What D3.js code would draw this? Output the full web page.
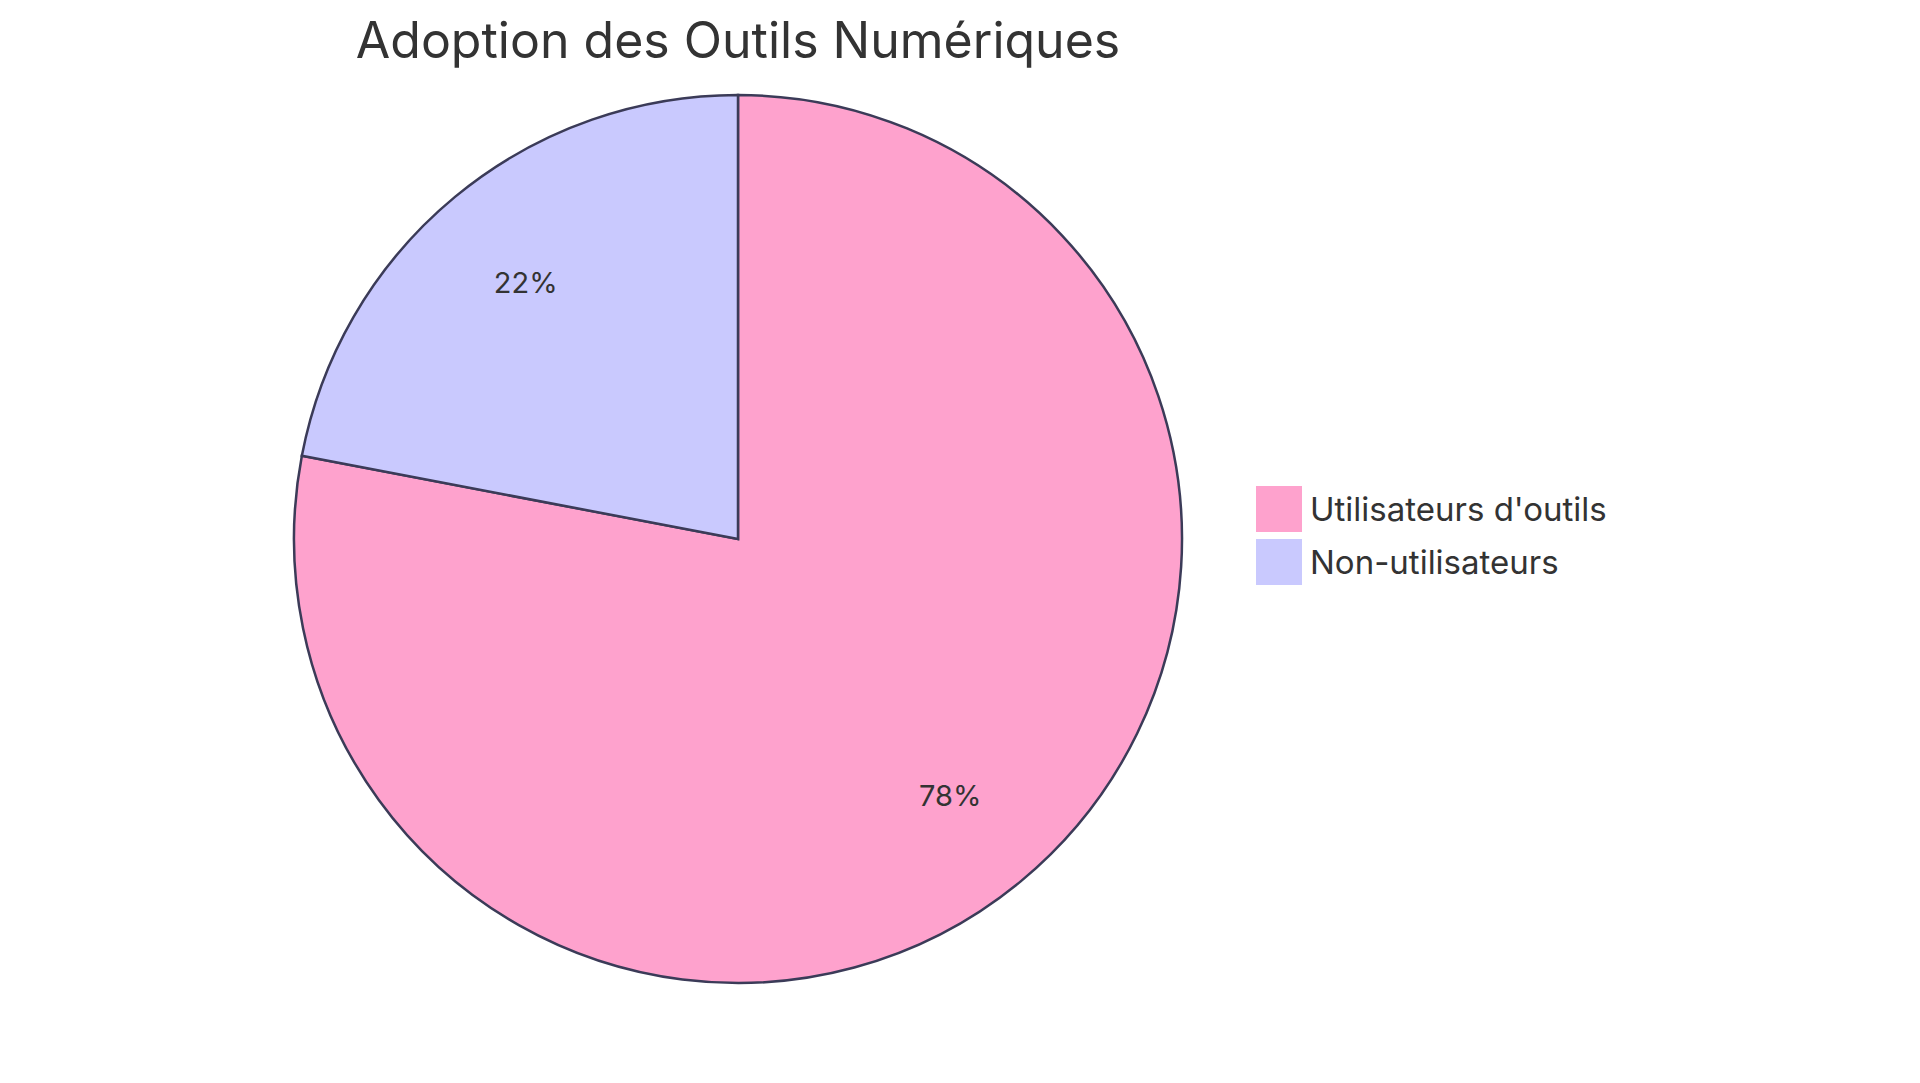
<!DOCTYPE html>
<html><head><meta charset="utf-8">
<script src="https://cdn.jsdelivr.net/npm/d3@7"></script>
<style>body{margin:0;background:#fff;font-family:Inter,"Open Sans",sans-serif;}</style>
</head><body>
<script>
var labels = ["Utilisateurs d'outils", "Non-utilisateurs"],
    values = [78, 22],
    colors = ["#fea2cd", "#c9c9fe"];

var width = 1920, height = 1083,
    cx = 738, cy = 539, r = 444;

var svg = d3.select("body").append("svg")
    .attr("width", width)
    .attr("height", height);

svg.append("text")
    .attr("x", cx).attr("y", 58)
    .attr("text-anchor", "middle")
    .attr("font-size", 50)
    .attr("fill", "#333")
    .text("Adoption des Outils Numériques");

var pie = d3.pie().sort(null)(values);
var arc = d3.arc().innerRadius(0).outerRadius(r);
var labelArc = d3.arc().innerRadius(r * 0.75).outerRadius(r * 0.75);

var g = svg.append("g").attr("transform", "translate(" + cx + "," + cy + ")");

g.selectAll("path")
    .data(pie)
    .enter().append("path")
    .attr("d", arc)
    .attr("fill", function(d, i) { return colors[i]; })
    .attr("stroke", "#3b3b58")
    .attr("stroke-width", 2.5);

g.selectAll("text")
    .data(pie)
    .enter().append("text")
    .attr("transform", function(d) { return "translate(" + labelArc.centroid(d) + ")"; })
    .attr("text-anchor", "middle")
    .attr("dy", "0.35em")
    .attr("font-size", 29)
    .attr("fill", "#333")
    .text(function(d) { return d.value + "%"; });

var legend = svg.selectAll("g.legend")
    .data(labels)
    .enter().append("g")
    .attr("class", "legend")
    .attr("transform", function(d, i) { return "translate(1256," + (486 + i * 53) + ")"; });

legend.append("rect")
    .attr("width", 46).attr("height", 46)
    .attr("fill", function(d, i) { return colors[i]; });

legend.append("text")
    .attr("x", 54).attr("y", 23)
    .attr("dy", "0.35em")
    .attr("font-size", 33)
    .attr("fill", "#333")
    .text(function(d) { return d; });
</script>
</body></html>
